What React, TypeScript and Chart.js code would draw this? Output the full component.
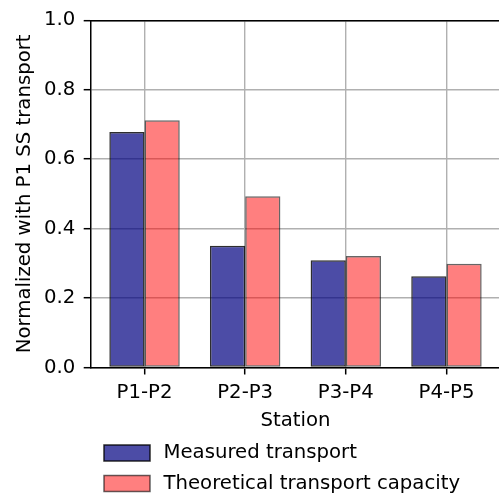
import React, { useEffect, useRef } from "react";
import { Chart, registerables } from "chart.js";

Chart.register(...registerables);

// ---- data ----
const categories = ["P1-P2", "P2-P3", "P3-P4", "P4-P5"];
const measuredTransport = [0.678, 0.351, 0.309, 0.263];
const theoreticalCapacity = [0.712, 0.493, 0.321, 0.299];
const seriesNames = ["Measured transport", "Theoretical transport capacity"];
const yTickValues = [0, 0.2, 0.4, 0.6, 0.8, 1.0];
const xLabel = "Station";
const yLabel = "Normalized with P1 SS transport";

const FONT_FAMILY = "'DejaVu Sans', sans-serif";
const FONT_SIZE = 19.7;
const font = { family: FONT_FAMILY, size: FONT_SIZE };

const legendPlugin = {
  id: "mplLegend",
  afterDraw(chart: any) {
    const ctx = chart.ctx;
    const area = chart.chartArea;
    const xScale = chart.scales.x;
    const left = area.left + 13.3;
    const boxW = 46;
    const boxH = 16;
    ctx.save();
    chart.data.datasets.forEach((ds: any, i: number) => {
      const cy = xScale.bottom + 22 + i * 30.5;
      ctx.fillStyle = ds.backgroundColor;
      ctx.fillRect(left, cy - boxH / 2, boxW, boxH);
      ctx.strokeStyle = ds.borderColor;
      ctx.lineWidth = 1.5;
      ctx.strokeRect(left, cy - boxH / 2, boxW, boxH);
      ctx.fillStyle = "#000";
      ctx.font = `${FONT_SIZE}px ${FONT_FAMILY}`;
      ctx.textBaseline = "middle";
      ctx.textAlign = "left";
      ctx.fillText(ds.label, left + boxW + 13.5, cy);
    });
    ctx.restore();
  },
};

export default function App() {
  const canvasRef = useRef<HTMLCanvasElement | null>(null);

  useEffect(() => {
    if (!canvasRef.current) return;
    const gridOpts = {
      color: "#b0b0b0",
      lineWidth: 1.4,
      tickColor: "#000",
      tickLength: 7,
      tickWidth: 1.5,
      offset: false,
    };
    const borderOpts = { display: true, color: "#000", width: 1.5 };
    const hiddenGrid = { display: false, drawTicks: false, tickLength: 0 };
    const chart = new Chart(canvasRef.current, {
      type: "bar",
      data: {
        datasets: [
          {
            label: seriesNames[0],
            data: measuredTransport.map((v, i) => ({ x: i, y: v })),
            backgroundColor: "rgba(0,0,128,0.7)",
            borderColor: "rgba(0,0,0,0.82)",
            borderWidth: 1.5,
            borderSkipped: false,
            categoryPercentage: 0.7,
            barPercentage: 1.0,
            xAxisID: "x",
            yAxisID: "y",
          },
          {
            label: seriesNames[1],
            data: theoreticalCapacity.map((v, i) => ({ x: i, y: v })),
            backgroundColor: "rgba(255,0,0,0.5)",
            borderColor: "rgba(0,0,0,0.6)",
            borderWidth: 1.5,
            borderSkipped: false,
            categoryPercentage: 0.7,
            barPercentage: 1.0,
            xAxisID: "x",
            yAxisID: "y",
          },
        ],
      } as any,
      options: {
        animation: false,
        responsive: true,
        maintainAspectRatio: false,
        devicePixelRatio: 1,
        layout: { padding: { top: 20, right: 0.7, bottom: 64, left: 0 } },
        plugins: {
          legend: { display: false },
          tooltip: { enabled: false },
        },
        scales: {
          x: {
            type: "linear",
            position: "bottom",
            offset: false,
            min: -0.535,
            max: 3.535,
            afterBuildTicks: (s: any) => {
              s.ticks = categories.map((_, i) => ({ value: i }));
            },
            afterFit: (s: any) => {
              s.height = 63.5;
            },
            ticks: {
              callback: (v: any) => categories[Math.round(Number(v))] ?? "",
              font,
              color: "#000",
              padding: 6.8,
              autoSkip: false,
              maxRotation: 0,
            },
            grid: gridOpts,
            border: borderOpts,
            title: {
              display: true,
              text: xLabel,
              font,
              color: "#000",
              padding: { top: 0, bottom: -1.5 },
            },
          },
          y: {
            type: "linear",
            position: "left",
            min: 0,
            max: 1,
            afterBuildTicks: (s: any) => {
              s.ticks = yTickValues.map((v) => ({ value: v }));
            },
            afterFit: (s: any) => {
              s.width = 90.7;
            },
            ticks: {
              callback: (v: any) => Number(v).toFixed(1),
              font,
              color: "#000",
              padding: 8.5,
            },
            grid: gridOpts,
            border: borderOpts,
            title: {
              display: true,
              text: yLabel,
              font,
              color: "#000",
              padding: { top: 13.3, bottom: 0 },
            },
          },
          xTop: {
            type: "linear",
            position: "top",
            display: true,
            offset: false,
            grid: hiddenGrid,
            ticks: { display: false },
            border: borderOpts,
            afterFit: (s: any) => {
              s.height = 0;
            },
          },
          yRight: {
            type: "linear",
            position: "right",
            display: true,
            grid: hiddenGrid,
            ticks: { display: false },
            border: borderOpts,
            afterFit: (s: any) => {
              s.width = 0;
            },
          },
        },
      } as any,
      plugins: [legendPlugin],
    });
    return () => chart.destroy();
  }, []);

  return (
    <div
      style={{
        position: "fixed",
        left: 0,
        top: 0,
        width: 499,
        height: 495,
        overflow: "hidden",
        background: "#fff",
      }}
    >
      <div style={{ position: "relative", width: 501, height: 495 }}>
        <canvas ref={canvasRef} />
      </div>
    </div>
  );
}
